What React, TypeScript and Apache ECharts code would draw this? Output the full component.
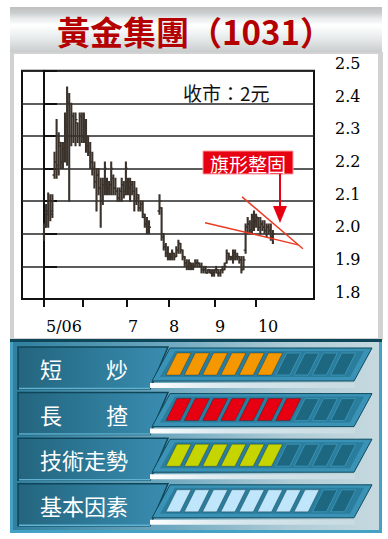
import React, { useEffect, useRef } from 'react';
import * as echarts from 'echarts';

// ---------- DATA ----------
const stockTitle = '黃金集團（1031）';
const closeNote = '收市：2元';
const patternNote = '旗形整固';

// daily bars (trading-day index 0..109), null = no trading
const opens = [
  2.00, 2.03, 2.06, 2.10, 2.07, 2.18, 2.22, 2.21, 2.27, 2.22,
  2.26, 2.33, 2.40, 2.30, 2.36, 2.30, 2.34, 2.30, 2.36, 2.30,
  2.33, 2.27, 2.25, 2.22, 2.20, 2.16, 2.18, 2.14, 2.10, 2.15,
  2.16, 2.14, 2.15, 2.17, 2.14, 2.13, 2.11, 2.13, 2.15, 2.13,
  2.16, 2.14, 2.15, 2.13, 2.10, 2.11, 2.08, 2.09, 2.05, 2.03,
  2.01, null, null, null, null, 2.07, 2.08, 1.99, 1.96, 1.94,
  1.93, 1.93, 1.94, 1.93, 1.95, 1.97, 1.95, 1.93, 1.91, 1.90,
  1.91, 1.90, 1.90, 1.91, 1.91, 1.90, 1.89, 1.89, 1.88, 1.89,
  1.88, 1.88, 1.89, 1.88, 1.88, 1.89, 1.89, 1.91, 1.94, 1.93,
  1.93, 1.94, 1.93, 1.93, 1.92, 1.89, 1.95, 2.02, 2.03, 2.01,
  2.05, 2.04, 2.05, 2.02, 2.03, 2.02, 2.01, 2.02, 2.01, 1.99,
];
const closes = [
  2.02, 2.07, 2.10, 2.06, 2.10, 2.22, 2.20, 2.28, 2.22, 2.26,
  2.33, 2.40, 2.30, 2.36, 2.30, 2.35, 2.30, 2.36, 2.30, 2.33,
  2.27, 2.25, 2.22, 2.20, 2.16, 2.18, 2.14, 2.10, 2.15, 2.20,
  2.14, 2.15, 2.20, 2.14, 2.13, 2.11, 2.13, 2.15, 2.12, 2.20,
  2.14, 2.16, 2.13, 2.10, 2.12, 2.08, 2.09, 2.06, 2.03, 2.01,
  2.02, null, null, null, null, 2.10, 2.00, 1.96, 1.94, 1.93,
  1.93, 1.94, 1.93, 1.95, 1.97, 1.95, 1.93, 1.91, 1.90, 1.91,
  1.90, 1.90, 1.91, 1.91, 1.90, 1.89, 1.89, 1.88, 1.89, 1.88,
  1.88, 1.89, 1.89, 1.88, 1.89, 1.89, 1.90, 1.94, 1.93, 1.93,
  1.94, 1.93, 1.93, 1.92, 1.89, 1.92, 2.02, 2.03, 2.01, 2.05,
  2.04, 2.05, 2.02, 2.03, 2.02, 2.01, 2.02, 2.01, 1.99, 2.00,
];
const lows = [
  1.98, 2.02, 2.02, 2.04, 2.05, 2.17, 2.17, 2.18, 2.20, 2.20,
  2.22, 2.21, 2.10, 2.27, 2.28, 2.27, 2.28, 2.27, 2.28, 2.28,
  2.25, 2.24, 2.20, 2.18, 2.14, 2.07, 2.12, 2.02, 2.09, 2.12,
  2.12, 2.12, 2.12, 2.12, 2.12, 2.10, 2.10, 2.10, 2.11, 2.12,
  2.12, 2.10, 2.12, 2.07, 2.09, 2.07, 2.07, 2.05, 2.02, 2.00,
  2.00, null, null, null, null, 2.06, 1.98, 1.95, 1.93, 1.92,
  1.92, 1.92, 1.92, 1.93, 1.94, 1.94, 1.92, 1.90, 1.89, 1.89,
  1.89, 1.89, 1.90, 1.90, 1.90, 1.88, 1.88, 1.88, 1.88, 1.88,
  1.87, 1.87, 1.88, 1.87, 1.87, 1.88, 1.89, 1.91, 1.92, 1.92,
  1.91, 1.92, 1.92, 1.91, 1.88, 1.89, 1.94, 2.00, 2.00, 2.00,
  2.01, 2.02, 2.01, 2.00, 2.01, 2.00, 1.99, 2.00, 1.98, 1.97,
];
const highs = [
  2.03, 2.09, 2.125, 2.12, 2.12, 2.25, 2.35, 2.31, 2.28, 2.28,
  2.37, 2.45, 2.43, 2.40, 2.37, 2.37, 2.34, 2.37, 2.37, 2.37,
  2.35, 2.30, 2.28, 2.25, 2.22, 2.20, 2.20, 2.17, 2.17, 2.22,
  2.17, 2.16, 2.22, 2.18, 2.17, 2.14, 2.14, 2.17, 2.16, 2.22,
  2.17, 2.17, 2.16, 2.16, 2.14, 2.12, 2.10, 2.10, 2.06, 2.05,
  2.04, null, null, null, null, 2.12, 2.08, 2.00, 1.97, 1.96,
  1.94, 1.95, 1.94, 1.96, 1.98, 1.97, 1.95, 1.93, 1.92, 1.92,
  1.91, 1.91, 1.92, 1.92, 1.91, 1.91, 1.90, 1.90, 1.89, 1.89,
  1.89, 1.89, 1.90, 1.89, 1.89, 1.90, 1.91, 1.95, 1.94, 1.93,
  1.95, 1.95, 1.94, 1.93, 1.93, 1.93, 2.03, 2.05, 2.04, 2.06,
  2.07, 2.06, 2.05, 2.05, 2.04, 2.04, 2.03, 2.03, 2.03, 2.01,
];

// x axis (trading-day index)
const monthTickPos = [0, 18.6, 39.5, 59.5, 81.4, 101.0];
const monthLabelPos = [9.5, 42.4, 61.9, 83.8, 106.7];
const monthLabels = ['5/06', '7', '8', '9', '10'];
const xMin = -10.48;
const xMax = 128.57;

// y axis
const priceMin = 1.8;
const priceMax = 2.5;
const priceStep = 0.1;

// flag pattern trend lines [dayIndex, price]
const flagUpper = [[94.3, 2.113], [123.3, 1.954]];
const flagLower = [[76.7, 2.034], [121.0, 1.966]];

// rating panel
const ratingLabels = ['短　　炒', '長　　揸', '技術走勢', '基本因素'];
const ratingLevels = [6, 7, 6, 8];
const ratingColors = ['#f59800', '#e60012', '#c6d400', '#bfe6fb'];
const ratingMax = 10;

// ---------- STYLE ----------
const BAR_COLOR = '#3a322b';
const AXIS_COLOR = '#111111';
const RED = '#e60012';
const SERIF = '"DejaVu Serif", "Liberation Serif", serif';
const CJK = '"Noto Sans CJK TC", "Noto Sans CJK SC", sans-serif';

function buildBars() {
  const out: number[][] = [];
  for (let i = 0; i < opens.length; i++) {
    if (opens[i] == null) continue;
    out.push([i, opens[i] as number, closes[i] as number, lows[i] as number, highs[i] as number]);
  }
  return out;
}

function buildRatingGraphics() {
  const els: any[] = [];
  const rowTop = 347;
  const rowStep = 45.6;
  ratingLabels.forEach((label, r) => {
    const y0 = rowTop + r * rowStep;
    els.push({
      type: 'polygon',
      z: -5,
      shape: { points: [[18, y0], [168, y0], [150, y0 + 42], [18, y0 + 42]] },
      style: {
        fill: new echarts.graphic.LinearGradient(0, 0, 1, 0, [
          { offset: 0, color: '#24657e' },
          { offset: 0.45, color: '#2c7795' },
          { offset: 1, color: '#3a8db1' },
        ]),
        stroke: '#0f4558',
        lineWidth: 1.5,
      },
    });
    els.push({
      type: 'line',
      z: -4,
      shape: { x1: 19, y1: y0 + 41.5, x2: 150, y2: y0 + 41.5 },
      style: { stroke: '#5fb2d2', lineWidth: 1.5 },
    });
    els.push({
      type: 'text',
      z: 5,
      style: {
        text: label,
        x: 40,
        y: y0 + 21,
        align: 'left',
        verticalAlign: 'middle',
        fill: '#ffffff',
        fontSize: 22,
        fontFamily: CJK,
      },
    });
    els.push({
      type: 'polygon',
      z: -5,
      shape: { points: [[170, y0 + 1], [372, y0 + 1], [354, y0 + 34], [152, y0 + 34]] },
      style: { fill: '#3a93b6', stroke: '#0f4a5d', lineWidth: 1 },
    });
    els.push({
      type: 'polygon',
      z: -4,
      shape: { points: [[175, y0 + 4], [364, y0 + 4], [350, y0 + 30], [160, y0 + 30]] },
      style: { fill: '#2a7d9c' },
    });
    els.push({
      type: 'rect',
      z: -4,
      shape: { x: 150, y: y0 + 36, width: 205, height: 5 },
      style: {
        fill: new echarts.graphic.LinearGradient(0, 0, 1, 0, [
          { offset: 0, color: 'rgba(255,255,255,1)' },
          { offset: 1, color: 'rgba(255,255,255,0.15)' },
        ]),
      },
    });
    for (let k = 0; k < ratingMax; k++) {
      const tl = 177 + 18.3 * k;
      const top = y0 + 6;
      const bot = y0 + 28;
      const filled = k < ratingLevels[r];
      els.push({
        type: 'polygon',
        z: -3,
        shape: { points: [[tl, top], [tl + 14, top], [tl + 3, bot], [tl - 11, bot]] },
        style: {
          fill: filled ? ratingColors[r] : '#1d6781',
          stroke: filled ? 'rgba(0,0,0,0.25)' : '#3a93b4',
          lineWidth: 1,
        },
      });
    }
  });
  return els;
}

function buildGraphics() {
  const els: any[] = [];
  els.push({
    type: 'rect',
    z: -10,
    shape: { x: 10, y: 7, width: 372, height: 46 },
    style: {
      fill: new echarts.graphic.LinearGradient(0, 0, 0, 1, [
        { offset: 0, color: '#bfbfbf' },
        { offset: 0.14, color: '#cdd0d0' },
        { offset: 0.25, color: '#e8ecec' },
        { offset: 0.4, color: '#ffffff' },
        { offset: 0.55, color: '#f2f5f5' },
        { offset: 0.75, color: '#e0e4e4' },
        { offset: 1, color: '#c6caca' },
      ]),
    },
  });
  els.push({
    type: 'text',
    z: 10,
    style: {
      text: stockTitle,
      x: 195,
      y: 31,
      align: 'center',
      verticalAlign: 'middle',
      fill: '#b40000',
      fontSize: 33,
      fontWeight: 'bold',
      fontFamily: CJK,
      shadowColor: 'rgba(70,0,0,0.7)',
      shadowOffsetX: 1.5,
      shadowOffsetY: 1.5,
      shadowBlur: 1,
    },
  });
  els.push({ type: 'rect', z: -10, shape: { x: 10, y: 52, width: 373, height: 288 }, style: { fill: '#d2d2d2' } });
  els.push({ type: 'rect', z: -9, shape: { x: 14, y: 54, width: 364, height: 284 }, style: { fill: '#ffffff' } });
  els.push({ type: 'rect', z: -10, shape: { x: 10, y: 339, width: 372, height: 194 }, style: { fill: '#46a2c4' } });
  els.push({
    type: 'rect',
    z: -9,
    shape: { x: 13, y: 342, width: 366, height: 188 },
    style: {
      fill: new echarts.graphic.LinearGradient(0, 0, 1, 0, [
        { offset: 0, color: '#2f7f9e' },
        { offset: 0.4, color: '#6aa6be' },
        { offset: 0.75, color: '#aecbd6' },
        { offset: 1, color: '#c6d9df' },
      ]),
    },
  });
  els.push({ type: 'rect', z: -8, shape: { x: 10, y: 339, width: 372, height: 3 }, style: { fill: '#0e475a' } });
  els.push(...buildRatingGraphics());

  els.push({
    type: 'text',
    z: 10,
    style: {
      text: closeNote,
      x: 183,
      y: 92,
      align: 'left',
      verticalAlign: 'middle',
      fill: '#111111',
      fontSize: 19,
      fontFamily: CJK,
    },
  });
  els.push({
    type: 'rect',
    z: 10,
    shape: { x: 203, y: 151, width: 90, height: 23 },
    style: { fill: RED, stroke: '#ff9c9c', lineWidth: 1 },
  });
  els.push({
    type: 'text',
    z: 11,
    style: {
      text: patternNote,
      x: 248,
      y: 163,
      align: 'center',
      verticalAlign: 'middle',
      fill: '#ffffff',
      fontSize: 19,
      fontFamily: CJK,
    },
  });
  els.push({
    type: 'line',
    z: 10,
    shape: { x1: 280, y1: 174, x2: 280, y2: 208 },
    style: { stroke: RED, lineWidth: 2 },
  });
  els.push({
    type: 'polygon',
    z: 10,
    shape: { points: [[273, 206], [287, 206], [280, 223]] },
    style: { fill: RED },
  });
  return els;
}

function buildOption(): any {
  const bars = buildBars();
  const findLabel = (v: number) => {
    const idx = monthLabelPos.findIndex((p) => Math.abs(p - v) < 1e-6);
    return idx >= 0 ? monthLabels[idx] : '';
  };
  const trendSeries = (pts: number[][]) => ({
    type: 'line',
    data: pts,
    xAxisIndex: 0,
    yAxisIndex: 0,
    showSymbol: false,
    symbol: 'none',
    silent: true,
    z: 5,
    lineStyle: { color: '#ea3a22', width: 1.5 },
  });
  return {
    animation: false,
    backgroundColor: '#ffffff',
    grid: {
      left: 22,
      right: 74,
      top: 70.7,
      bottom: 240,
      show: true,
      borderColor: AXIS_COLOR,
      borderWidth: 2,
      backgroundColor: 'transparent',
    },
    xAxis: [
      {
        type: 'value',
        min: xMin,
        max: xMax,
        position: 'bottom',
        axisLine: { show: true, onZero: false, lineStyle: { color: AXIS_COLOR, width: 2 } },
        axisTick: { show: true, customValues: monthTickPos, length: 8, lineStyle: { color: AXIS_COLOR, width: 2 } },
        axisLabel: { show: false },
        splitLine: { show: false },
      },
      {
        type: 'value',
        min: xMin,
        max: xMax,
        position: 'bottom',
        axisLine: { show: false, onZero: false },
        axisTick: { show: false },
        axisLabel: {
          show: true,
          customValues: monthLabelPos,
          formatter: (v: number) => findLabel(v),
          fontFamily: SERIF,
          fontSize: 16,
          color: '#000000',
          margin: 19,
        },
        splitLine: { show: false },
      },
    ],
    yAxis: {
      type: 'value',
      position: 'right',
      min: priceMin,
      max: priceMax,
      interval: priceStep,
      axisLine: { show: true, lineStyle: { color: AXIS_COLOR, width: 2 } },
      axisTick: { show: true, length: 13, lineStyle: { color: AXIS_COLOR, width: 2 } },
      axisLabel: {
        fontFamily: SERIF,
        fontSize: 16,
        color: '#000000',
        margin: 21,
        verticalAlign: 'bottom',
        lineHeight: 14,
        formatter: (v: number) => v.toFixed(1),
      },
      splitLine: { show: true, lineStyle: { color: '#262626', width: 1.6 } },
    },
    graphic: { elements: buildGraphics() },
    series: [
      {
        type: 'custom',
        xAxisIndex: 0,
        yAxisIndex: 0,
        clip: true,
        z: 4,
        data: bars,
        encode: { x: 0, y: [1, 2, 3, 4] },
        renderItem: (_params: any, api: any) => {
          const x = api.value(0);
          const pO = api.coord([x, api.value(1)]);
          const pC = api.coord([x, api.value(2)]);
          const pL = api.coord([x, api.value(3)]);
          const pH = api.coord([x, api.value(4)]);
          return {
            type: 'group',
            children: [
              {
                type: 'line',
                shape: { x1: pH[0], y1: pH[1] - 0.5, x2: pL[0], y2: pL[1] + 0.5 },
                style: { stroke: BAR_COLOR, lineWidth: 2.1 },
              },
              {
                type: 'line',
                shape: { x1: pO[0] - 2, y1: pO[1], x2: pO[0], y2: pO[1] },
                style: { stroke: BAR_COLOR, lineWidth: 1.4 },
              },
              {
                type: 'line',
                shape: { x1: pC[0], y1: pC[1], x2: pC[0] + 2, y2: pC[1] },
                style: { stroke: BAR_COLOR, lineWidth: 1.4 },
              },
            ],
          };
        },
      },
      trendSeries(flagUpper),
      trendSeries(flagLower),
    ],
  };
}

export default function App() {
  const ref = useRef<HTMLDivElement>(null);
  useEffect(() => {
    if (!ref.current) return;
    const chart = echarts.init(ref.current, undefined, { renderer: 'svg' });
    chart.setOption(buildOption());
    return () => {
      chart.dispose();
    };
  }, []);
  return (
    <div
      ref={ref}
      style={{ position: 'fixed', left: 0, top: 0, width: 388, height: 539, background: '#ffffff' }}
    />
  );
}
